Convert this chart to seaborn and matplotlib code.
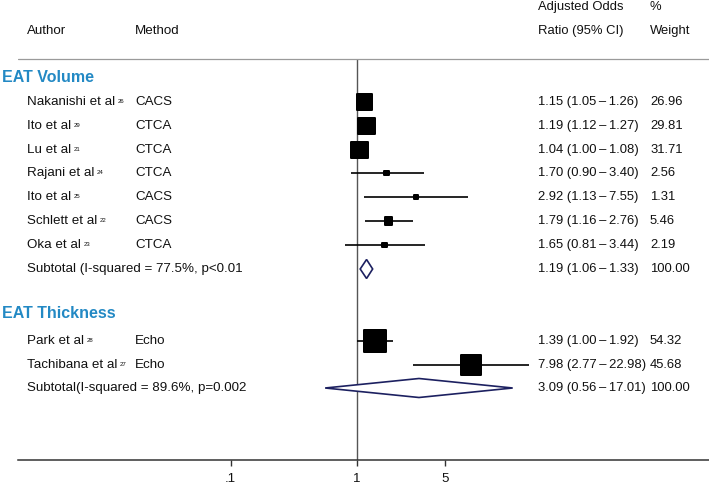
import numpy as np
import pandas as pd
import matplotlib
matplotlib.use("Agg")
import matplotlib.pyplot as plt
import matplotlib.transforms as mtransforms
import seaborn as sns

# ---------------- data ----------------
authors = ["Nakanishi et al", "Ito et al", "Lu et al", "Rajani et al", "Ito et al",
           "Schlett et al", "Oka et al", "Park et al", "Tachibana et al"]
refs = ["26", "29", "21", "24", "25", "22", "23", "28", "27"]
methods = ["CACS", "CTCA", "CTCA", "CTCA", "CACS", "CACS", "CTCA", "Echo", "Echo"]
or_est = [1.15, 1.19, 1.04, 1.70, 2.92, 1.79, 1.65, 1.39, 7.98]
ci_lo = [1.05, 1.12, 1.00, 0.90, 1.13, 1.16, 0.81, 1.00, 2.77]
ci_hi = [1.26, 1.27, 1.08, 3.40, 7.55, 2.76, 3.44, 1.92, 22.98]
weights = [26.96, 29.81, 31.71, 2.56, 1.31, 5.46, 2.19, 54.32, 45.68]
groups = ["EAT Volume"] * 7 + ["EAT Thickness"] * 2

group_names = ["EAT Volume", "EAT Thickness"]
sub_labels = ["Subtotal (I-squared = 77.5%, p<0.01", "Subtotal(I-squared = 89.6%, p=0.002"]
sub_est = [1.19, 3.09]
sub_lo = [1.06, 0.56]
sub_hi = [1.33, 17.01]
sub_weight = ["100.00", "100.00"]

xticks = [0.1, 1, 5]
xticklabels = [".1", "1", "5"]

# ---------------- layout (pixel rows from top) ----------------
W, H = 709, 484
group_y = [77, 313]
row_y = [102, 126, 150, 173, 197, 221, 245, 341, 365]
sub_y = [269, 388]
axis_y = 460
line_y = 59
x_one_px = 357.0
decade_px = 126.5
ax_left_px = 18

sns.set_style("white")
plt.rcParams["font.family"] = ["Liberation Sans", "DejaVu Sans"]
plt.rcParams["font.size"] = 9.5

fig = plt.figure(figsize=(W / 100, H / 100), dpi=100)
ax = fig.add_axes([ax_left_px / W, (H - axis_y) / H, 1 - ax_left_px / W, axis_y / H])
ax.set_xscale("log")
ax.set_xlim(10 ** ((ax_left_px - x_one_px) / decade_px), 10 ** ((W - x_one_px) / decade_px))
ax.set_ylim(axis_y, 0)

for s in ["top", "left", "right"]:
    ax.spines[s].set_visible(False)
ax.spines["bottom"].set_color("#333333")
ax.spines["bottom"].set_linewidth(1.1)
ax.set_xticks(xticks)
ax.set_xticklabels(xticklabels)
ax.xaxis.set_minor_locator(matplotlib.ticker.NullLocator())
ax.tick_params(axis="x", direction="out", length=4.5, width=1.0, color="#333333",
               labelsize=9.5, pad=4.5, bottom=True, labelcolor="#111111")
ax.set_yticks([])

# top separator and null line
ax.axhline(line_y, color="#9a9a9a", lw=0.9, xmin=0, xmax=1)
ax.vlines(1, line_y, axis_y, color="#555555", lw=1.0, zorder=1)

# CI lines
ax.hlines(row_y, ci_lo, ci_hi, color="black", lw=1.2, zorder=2)

# squares via seaborn
df = pd.DataFrame({"or": or_est, "y": row_y, "w": weights})
sns.scatterplot(data=df, x="or", y="y", size="w", sizes=(0, 467), size_norm=(0, 100),
                marker="s", color="black", edgecolor="black", linewidth=1.44,
                legend=False, ax=ax, zorder=3)
ax.set_xlabel("")
ax.set_ylabel("")

# diamonds
navy = "#1c2060"
for est, lo, hi, y in zip(sub_est, sub_lo, sub_hi, sub_y):
    h = 9.5
    ax.fill([lo, est, hi, est, lo], [y, y - h, y, y + h, y], facecolor="white",
            edgecolor=navy, lw=1.2, zorder=3)

# ---------------- text ----------------
tr = mtransforms.blended_transform_factory(fig.transFigure, ax.transData)
txt_color = "#111111"
fs = 9.6
fs_val = 9.4

def put(xpx, y, s, **kw):
    kw.setdefault("fontsize", fs)
    kw.setdefault("color", txt_color)
    return ax.text(xpx / W, y, s, transform=tr, ha="left", va="center", clip_on=False, **kw)

def ci_text(e, lo, hi):
    return f"{e:.2f} ({lo:.2f}\u2009\u2013\u2009{hi:.2f})"

put(27, 31, "Author")
put(135, 31, "Method")
put(538, 7, "Adjusted Odds", fontsize=fs_val)
put(538, 31, "Ratio (95% CI)", fontsize=fs_val)
put(650, 7, "%", fontsize=fs_val)
put(650, 31, "Weight", fontsize=fs_val)

for g, y in zip(group_names, group_y):
    put(2, y, g, fontsize=11.5, fontweight="bold", color="#2389c4")

for a, r, m, e, lo, hi, w, y in zip(authors, refs, methods, or_est, ci_lo, ci_hi, weights, row_y):
    t = put(27, y, a)
    ax.annotate(r, xy=(1, 1), xycoords=t, xytext=(2.0, -2.2), textcoords="offset points",
                ha="left", va="top", fontsize=4.3, color=txt_color, annotation_clip=False)
    put(135, y, m)
    put(538, y, ci_text(e, lo, hi), fontsize=fs_val)
    put(650, y, f"{w:.2f}", fontsize=fs_val)

for lab, e, lo, hi, wt, y in zip(sub_labels, sub_est, sub_lo, sub_hi, sub_weight, sub_y):
    put(27, y, lab)
    put(538, y, ci_text(e, lo, hi), fontsize=fs_val)
    put(650, y, wt, fontsize=fs_val)

fig.savefig("out.png", dpi=100)
